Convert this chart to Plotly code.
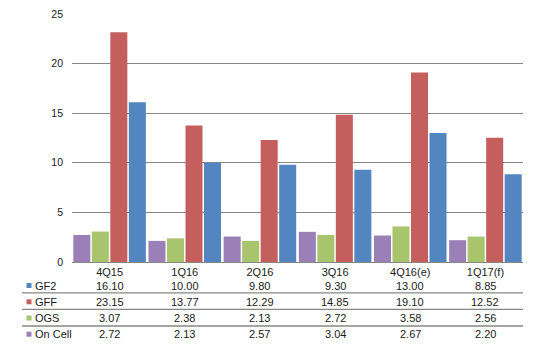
import plotly.graph_objects as go

# Quarterly values per product line
categories = ["4Q15", "1Q16", "2Q16", "3Q16", "4Q16(e)", "1Q17(f)"]
gf2 = [16.10, 10.00, 9.80, 9.30, 13.00, 8.85]
gff = [23.15, 13.77, 12.29, 14.85, 19.10, 12.52]
ogs = [3.07, 2.38, 2.13, 2.72, 3.58, 2.56]
on_cell = [2.72, 2.13, 2.57, 3.04, 2.67, 2.20]
y_ticks = [0, 5, 10, 15, 20, 25]

# series in bar order (left to right inside a group)
bar_series = [
    ("On Cell", on_cell, "#9A80B7"),
    ("OGS", ogs, "#A8C46C"),
    ("GFF", gff, "#C55F5D"),
    ("GF2", gf2, "#5386C0"),
]
# series in data-table row order
table_series = [
    ("GF2", gf2, "#5386C0"),
    ("GFF", gff, "#C55F5D"),
    ("OGS", ogs, "#A8C46C"),
    ("On Cell", on_cell, "#9A80B7"),
]

W, H = 539, 350
L, R, T, B = 72, 16, 14, 88
plot_h = H - T - B
plot_w = W - L - R

FONT = "Liberation Sans, Arial, sans-serif"
FS = 11
TXT = "#1a1a1a"
GRID = "#878787"

fig = go.Figure()
for name, vals, color in bar_series:
    fig.add_trace(go.Bar(
        x=categories, y=vals, name=name,
        marker=dict(color=color, line=dict(width=0)),
        showlegend=False, hoverinfo="x+y+name",
    ))


def py(px):
    """pixel row (from top of page) -> paper y"""
    return (H - B - px) / plot_h


def pxx(px):
    """pixel column -> paper x"""
    return (px - L) / plot_w


row_y = [285.5, 301.8, 318.0, 334.2]
sep_y = [292.8, 309.3, 326.0]

annotations = []
shapes = []
for (name, vals, color), ry in zip(table_series, row_y):
    yy = py(ry)
    # legend key
    shapes.append(dict(type="rect", xref="paper", yref="paper",
                       x0=pxx(26.5), x1=pxx(31.5),
                       y0=py(ry + 2.5), y1=py(ry - 2.5),
                       fillcolor=color, line=dict(width=0)))
    annotations.append(dict(text=name, xref="paper", yref="paper",
                            x=pxx(33), y=yy, xanchor="left", yanchor="middle",
                            showarrow=False,
                            font=dict(family=FONT, size=FS, color=TXT)))
    for cat, v in zip(categories, vals):
        annotations.append(dict(text=f"{v:.2f}", xref="x", yref="paper",
                                x=cat, y=yy, xanchor="center", yanchor="middle",
                                showarrow=False,
                                font=dict(family=FONT, size=FS, color=TXT)))

for sy in sep_y:
    shapes.append(dict(type="line", xref="paper", yref="paper",
                       x0=pxx(22), x1=1.0, y0=py(sy), y1=py(sy),
                       line=dict(color=GRID, width=1.3)))

fig.update_layout(
    width=W, height=H,
    margin=dict(l=L, r=R, t=T, b=B, pad=0, autoexpand=False),
    paper_bgcolor="white", plot_bgcolor="white",
    barmode="group", bargap=0.015, bargroupgap=0.08,
    font=dict(family=FONT, size=FS, color=TXT),
    xaxis=dict(
        type="category", showline=True, linecolor=GRID, linewidth=1.3,
        showgrid=False, ticks="", tickfont=dict(family=FONT, size=FS, color=TXT),
        ticklabelstandoff=0, automargin=False,
    ),
    yaxis=dict(
        range=[0, 25], tickvals=y_ticks, showline=False, zeroline=False,
        showgrid=True, gridcolor=GRID, gridwidth=1.3, ticks="",
        tickfont=dict(family=FONT, size=10.5, color=TXT),
        ticklabelstandoff=8, automargin=False,
    ),
    annotations=annotations,
    shapes=shapes,
)

fig.write_html("out.html")
